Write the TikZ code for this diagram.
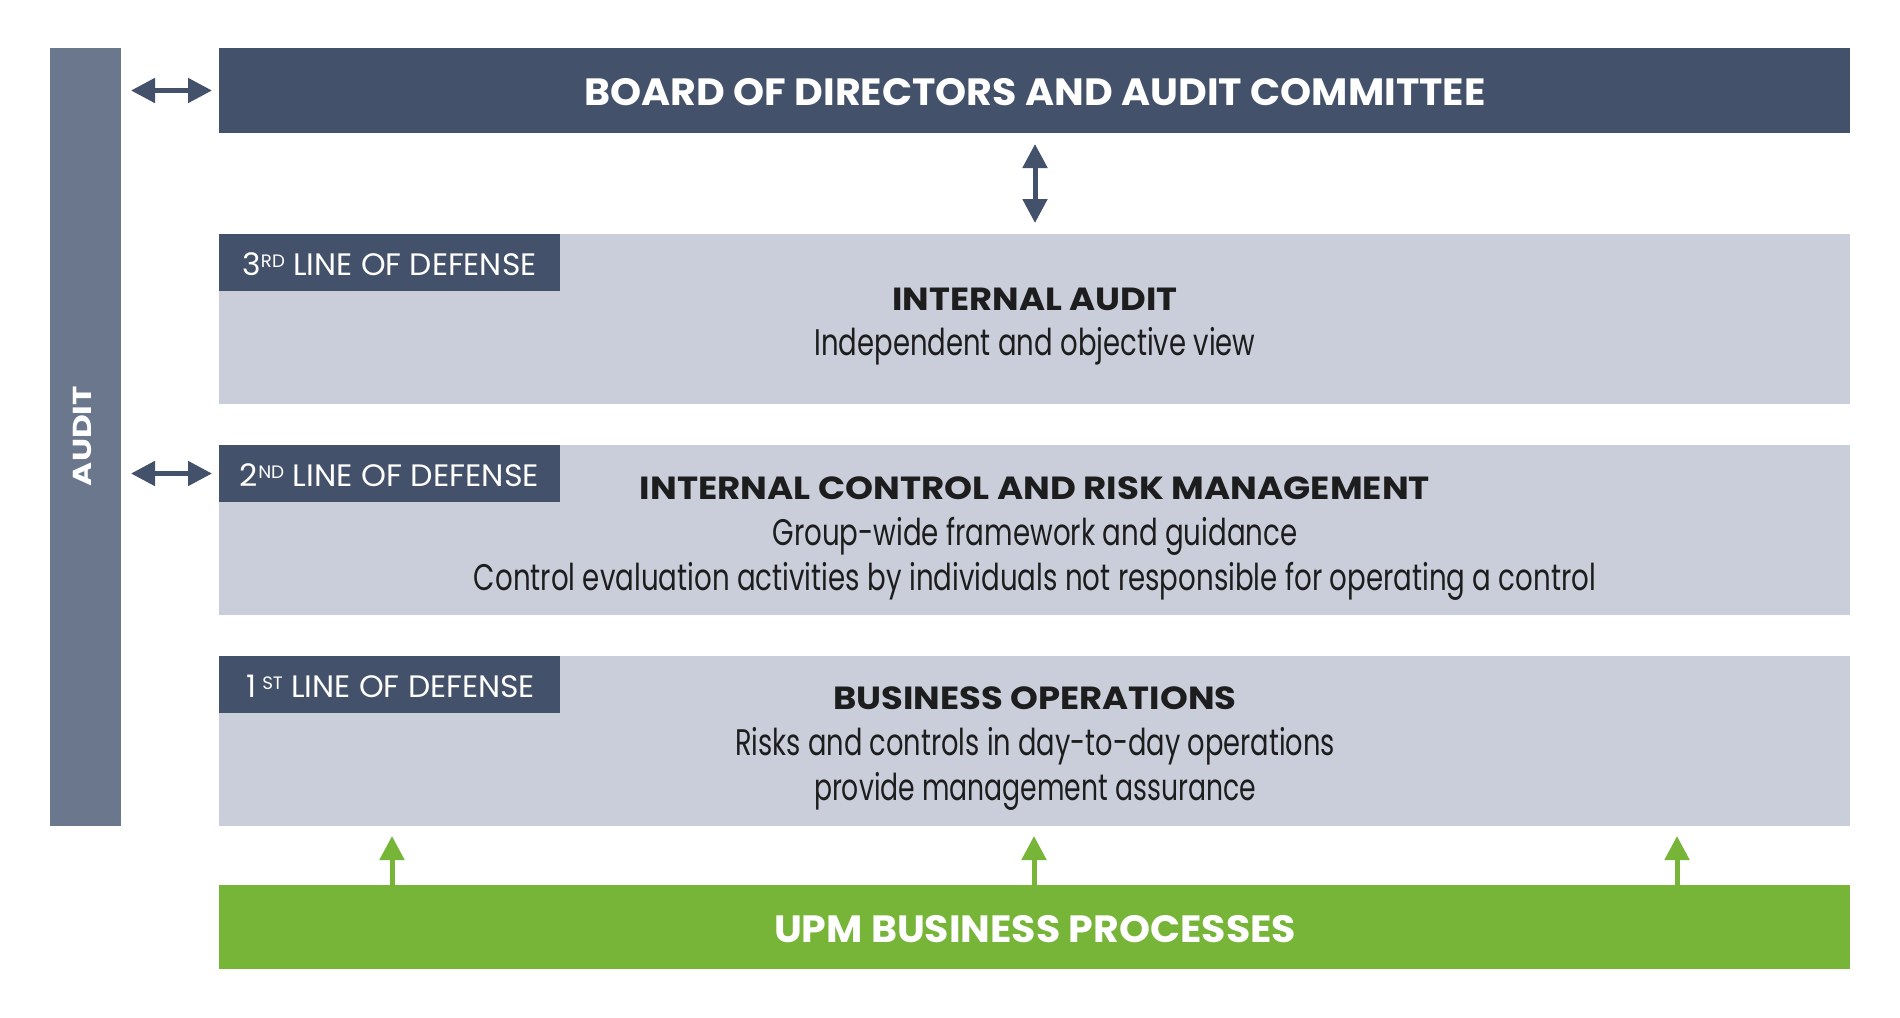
\documentclass[tikz,border=0pt]{standalone}
\usepackage{fontspec}
\usepackage{graphicx}
\setmainfont{Poppins}
\usetikzlibrary{arrows.meta}
\definecolor{navy}{HTML}{44516A}
\definecolor{auditbar}{HTML}{6B778D}
\definecolor{lightbox}{HTML}{C9CEDA}
\definecolor{upmgreen}{HTML}{77B539}
\definecolor{ink}{HTML}{1D1D1D}
\newcommand\fitw[2]{\resizebox{#1}{\height}{#2}}
\newcommand\supsc[1]{\raisebox{8pt}{\fontsize{18}{18}\selectfont #1}}
\tikzset{
  rect/.style={draw=none, inner sep=0pt, outer sep=0pt, anchor=north west},
  txt/.style={anchor=base, inner sep=0pt, outer sep=0pt},
  headfont/.style={font=\bfseries\fontsize{38}{38}\selectfont},
  titlefont/.style={font=\bfseries\fontsize{32}{32}\selectfont, text=ink},
  bodyfont/.style={font=\fontsize{37}{37}\selectfont, text=ink},
  tagfont/.style={font=\fontsize{31}{31}\selectfont, text=white},
  dbl/.style={line width=5pt, navy, {Triangle[length=24pt,width=24pt]}-{Triangle[length=24pt,width=24pt]}},
  garrow/.style={line width=5pt, upmgreen, -{Triangle[length=24pt,width=24pt]}}
}
\begin{document}
\begin{tikzpicture}[x=1pt,y=-1pt]
\useasboundingbox (0,0) rectangle (1900,1017);
\fill[white] (0,0) rectangle (1900,1017);
% boxes
\node[rect, fill=auditbar, minimum width=71, minimum height=778] (audit) at (50,48) {};
\node[rect, fill=navy, minimum width=1631, minimum height=85] (board) at (219,48) {};
\node[rect, fill=lightbox, minimum width=1631, minimum height=170] (l3) at (219,234) {};
\node[rect, fill=navy, minimum width=341, minimum height=57] (tag3) at (219,234) {};
\node[rect, fill=lightbox, minimum width=1631, minimum height=170] (l2) at (219,445) {};
\node[rect, fill=navy, minimum width=341, minimum height=57] (tag2) at (219,445) {};
\node[rect, fill=lightbox, minimum width=1631, minimum height=170] (l1) at (219,656) {};
\node[rect, fill=navy, minimum width=341, minimum height=57] (tag1) at (219,656) {};
\node[rect, fill=upmgreen, minimum width=1631, minimum height=84] (green) at (219,885) {};
% texts
\node[txt, rotate=90, text=white, font=\bfseries\fontsize{26}{26}\selectfont] (auditt) at (91,436) {\fitw{100pt}{AUDIT}};
\node[txt, headfont, text=white] (boardt) at (1035,105.5) {\fitw{901pt}{BOARD OF DIRECTORS AND AUDIT COMMITTEE}};
\node[txt, tagfont] (tag3t) at (389.5,275) {\fitw{294pt}{3\supsc{RD} LINE OF DEFENSE}};
\node[txt, tagfont] (tag2t) at (389.5,486) {\fitw{299pt}{2\supsc{ND} LINE OF DEFENSE}};
\node[txt, tagfont] (tag1t) at (391,697) {\fitw{288pt}{1\,\supsc{ST} LINE OF DEFENSE}};
\node[txt, titlefont] (iat) at (1035,310) {\fitw{285pt}{INTERNAL AUDIT}};
\node[txt, bodyfont] (iab) at (1035,355) {\fitw{441pt}{Independent and objective view}};
\node[txt, titlefont] (ict) at (1035,499) {\fitw{790pt}{INTERNAL CONTROL AND RISK MANAGEMENT}};
\node[txt, bodyfont] (icb1) at (1035,545) {\fitw{525pt}{Group-wide framework and guidance}};
\node[txt, bodyfont] (icb2) at (1035,590) {\fitw{1122pt}{Control evaluation activities by individuals not responsible for operating a control}};
\node[txt, titlefont] (bot) at (1035,709.5) {\fitw{403pt}{BUSINESS OPERATIONS}};
\node[txt, bodyfont] (bob1) at (1035,755) {\fitw{600pt}{Risks and controls in day-to-day operations}};
\node[txt, bodyfont] (bob2) at (1035,800) {\fitw{442pt}{provide management assurance}};
\node[txt, headfont, text=white] (upmt) at (1035,942) {\fitw{522pt}{UPM BUSINESS PROCESSES}};
% connectors
\coordinate (cx) at (1035,0);
\coordinate (g1) at (392,0);
\coordinate (g2) at (1034,0);
\coordinate (g3) at (1677,0);
\draw[dbl, shorten <=10pt, shorten >=7pt] (audit.east |- board.west) -- (board.west);
\draw[dbl, shorten <=10pt, shorten >=7pt] (audit.east |- tag2.west) -- (tag2.west);
\draw[dbl, shorten <=11pt, shorten >=11pt] (board.south -| cx) -- (l3.north -| cx);
\draw[garrow, shorten >=10pt] (green.north -| g1) -- (l1.south -| g1);
\draw[garrow, shorten >=10pt] (green.north -| g2) -- (l1.south -| g2);
\draw[garrow, shorten >=10pt] (green.north -| g3) -- (l1.south -| g3);
\end{tikzpicture}
\end{document}
